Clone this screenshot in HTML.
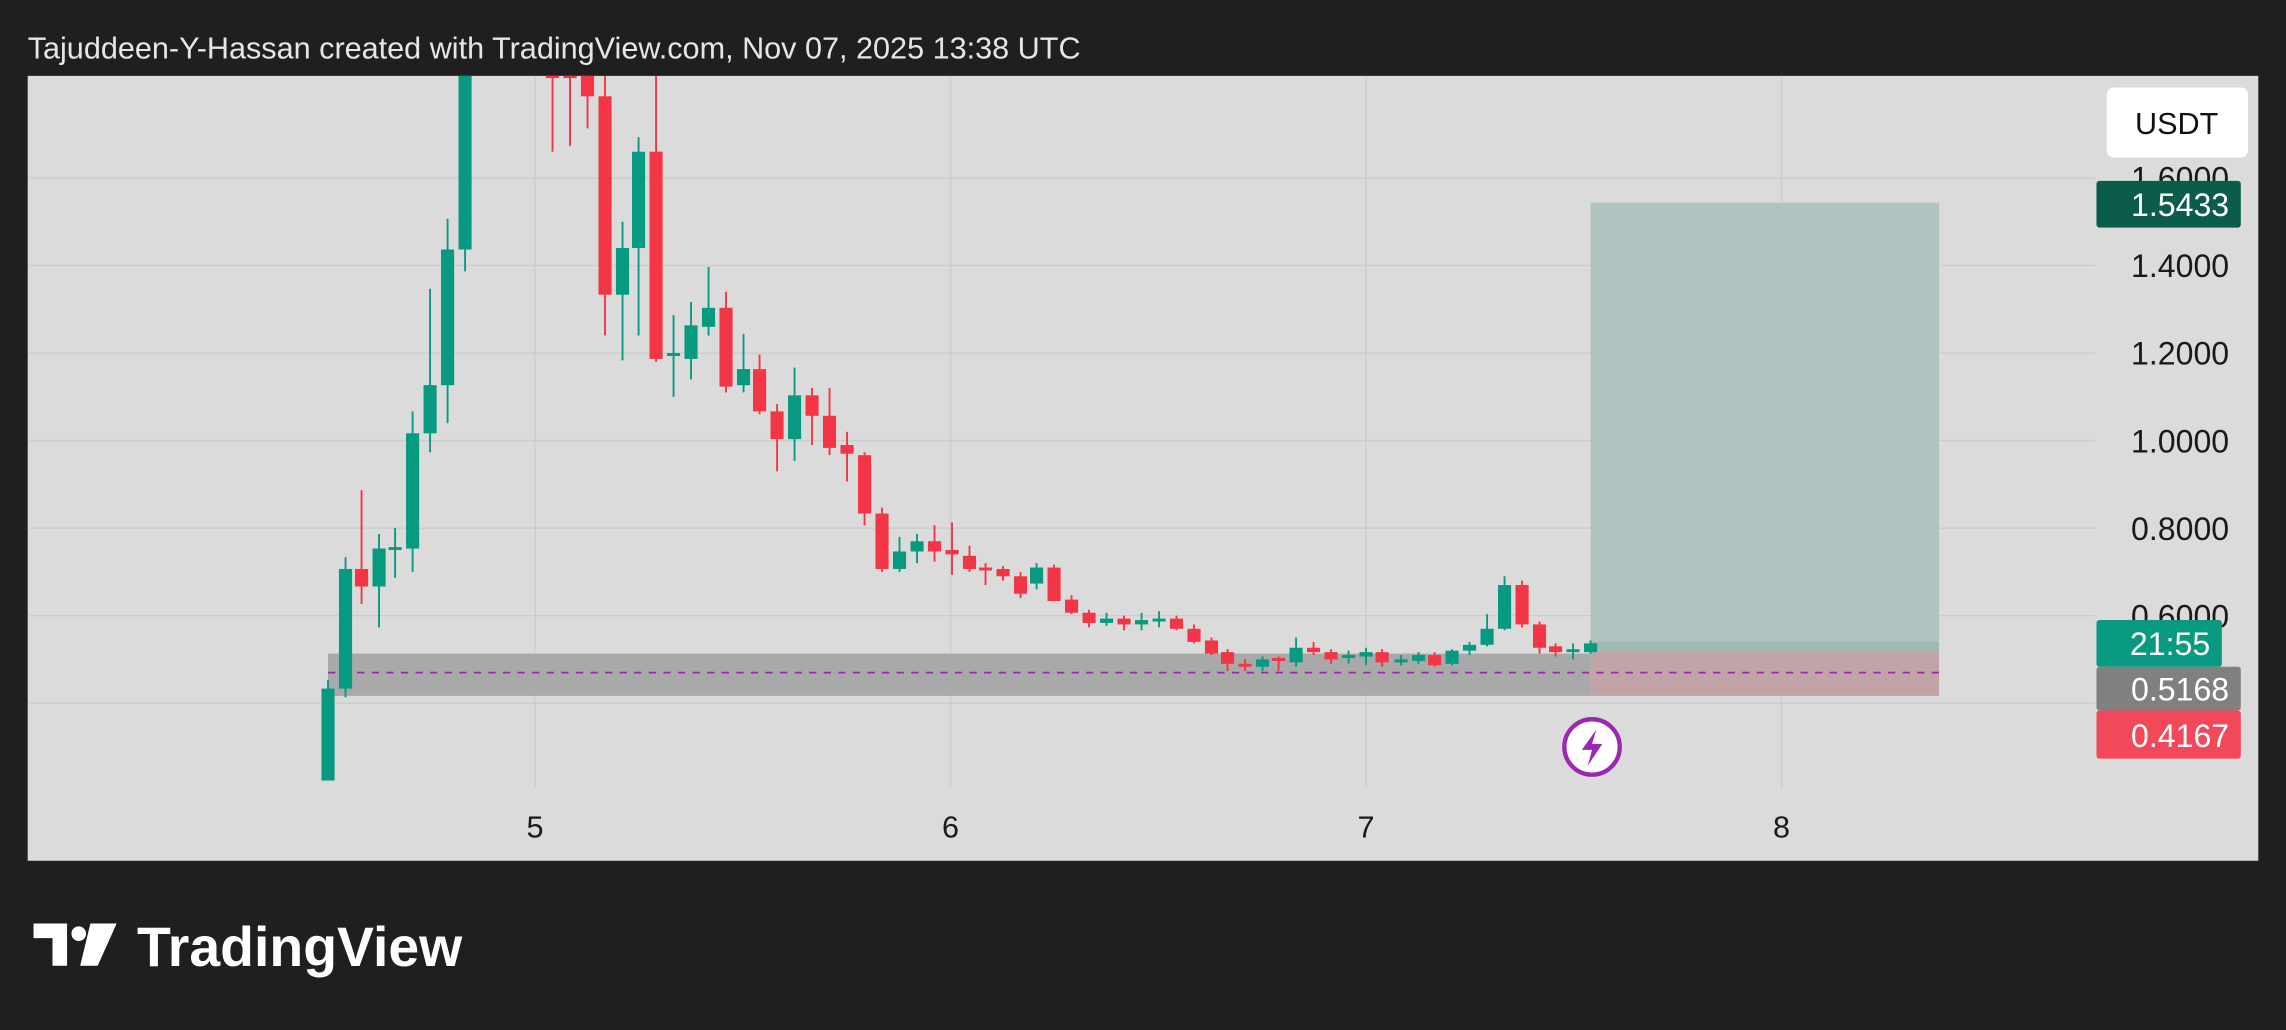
<!DOCTYPE html>
<html><head><meta charset="utf-8"><style>
html,body{margin:0;padding:0;background:#1f1f1f;}
svg{display:block;}
text{font-family:"Liberation Sans",sans-serif;}
</style></head><body>
<svg width="2286" height="1030" viewBox="0 0 1568 706" preserveAspectRatio="none" xmlns="http://www.w3.org/2000/svg">
<rect width="1568" height="706" fill="#1f1f1f"/>
<text x="19" y="40" font-size="21" fill="#e6e6e6">Tajuddeen-Y-Hassan created with TradingView.com, Nov 07, 2025 13:38 UTC</text>
<rect x="19" y="52" width="1530" height="538" fill="#dbdbdb"/>
<g stroke="#cdcdcd" stroke-width="1">
<line x1="19" x2="1437" y1="122" y2="122"/><line x1="19" x2="1437" y1="182" y2="182"/>
<line x1="19" x2="1437" y1="242" y2="242"/><line x1="19" x2="1437" y1="302" y2="302"/>
<line x1="19" x2="1437" y1="362" y2="362"/><line x1="19" x2="1437" y1="422" y2="422"/>
<line x1="19" x2="1437" y1="482" y2="482"/>
<line x1="367" x2="367" y1="52" y2="540"/><line x1="652" x2="652" y1="52" y2="540"/>
<line x1="937" x2="937" y1="52" y2="540"/><line x1="1222" x2="1222" y1="52" y2="540"/>
</g>
<rect x="225" y="448" width="866" height="29" fill="#a9a9a9"/>
<rect x="1091" y="139" width="239" height="308" fill="#b0c3c0"/>
<rect x="1091" y="440" width="239" height="7" fill="#9fb8b3"/>
<rect x="1091" y="447" width="239" height="30" fill="#c2a4a8"/>
<line x1="225" x2="1330" y1="461" y2="461" stroke="#9c27b0" stroke-width="1.2" stroke-dasharray="5,5"/>
<g id="c"></g>
<circle cx="1092" cy="512" r="19" fill="#fff" stroke="#9c27b0" stroke-width="3"/>
<path d="M1095 500 L1085 514 L1092 514 L1089 525 L1099 510 L1092 510 Z" fill="#9c27b0"/>
<g font-size="22" fill="#1a1a1a" text-anchor="end">
<text x="1529" y="130">1.6000</text>
<text x="1529" y="190">1.4000</text><text x="1529" y="250">1.2000</text>
<text x="1529" y="310">1.0000</text><text x="1529" y="370">0.8000</text>
<text x="1529" y="430">0.6000</text>
</g>
<rect x="1445" y="60" width="97" height="48" rx="5" fill="#fff"/>
<text x="1493" y="92" font-size="21" fill="#111" text-anchor="middle">USDT</text>
<rect x="1438" y="124" width="99" height="32" rx="2" fill="#0b5c4b"/>
<text x="1529" y="148" font-size="22" fill="#fff" text-anchor="end">1.5433</text>
<rect x="1438" y="425" width="86" height="32" rx="2" fill="#089981"/>
<text x="1516" y="449" font-size="22" fill="#fff" text-anchor="end">21:55</text>
<rect x="1438" y="457" width="99" height="30" rx="2" fill="#808080"/>
<text x="1529" y="480" font-size="22" fill="#fff" text-anchor="end">0.5168</text>
<rect x="1438" y="487" width="99" height="33" rx="2" fill="#f2495a"/>
<text x="1529" y="512" font-size="22" fill="#fff" text-anchor="end">0.4167</text>
<g font-size="21" fill="#1a1a1a" text-anchor="middle">
<text x="367" y="574">5</text><text x="652" y="574">6</text><text x="937" y="574">7</text><text x="1222" y="574">8</text>
</g>
<g fill="#fff">
<path d="M23 633 H46 V662 H36 V643 H23 Z"/>
<circle cx="54" cy="640" r="5"/>
<path d="M62 633 H80 L67 662 H55 Z"/>
</g>
<text x="94" y="662" font-size="38" font-weight="bold" fill="#fff">TradingView</text>
</svg>
<script>
var d=[
[225,472,535,466,535,'g'],[237,390,472,382,478,'g'],[248,390,402,336,414,'r'],[260,376,402,366,430,'g'],
[271,375,377,362,396,'g'],[283,297,376,282,392,'g'],[295,264,297,198,310,'g'],[307,171,264,150,290,'g'],
[319,52,171,52,186,'g'],[379,52,52,52,104,'r'],[391,52,52,52,100,'r'],[403,52,66,52,88,'r'],[415,66,202,52,230,'r'],
[427,170,202,152,247,'g'],[438,104,170,94,230,'g'],[450,104,246,52,248,'r'],
[462,242,244,216,272,'g'],[474,223,246,207,260,'g'],[486,211,224,183,230,'g'],[498,211,265,200,269,'r'],
[510,253,264,229,269,'g'],[521,253,282,243,284,'r'],[533,282,301,277,323,'r'],[545,271,301,252,316,'g'],
[557,271,285,266,305,'r'],[569,285,307,266,312,'r'],[581,305,311,296,330,'r'],[593,312,352,310,360,'r'],
[605,352,390,348,392,'r'],[617,378,390,368,392,'g'],[629,371,378,366,386,'g'],[641,371,378,360,385,'r'],
[653,377,380,358,394,'r'],[665,381,390,374,392,'r'],[676,389,391,386,401,'r'],[688,390,395,388,398,'r'],
[700,395,407,392,410,'r'],[711,389,400,386,404,'g'],[723,389,412,387,412,'r'],[735,411,420,408,421,'r'],
[747,420,427,418,430,'r'],[759,424,427,420,429,'g'],[771,424,428,422,432,'r'],[783,425,428,420,432,'g'],
[795,424,426,419,430,'g'],[807,424,431,422,432,'r'],[819,431,440,428,441,'r'],[831,439,448,437,449,'r'],
[842,447,455,445,460,'r'],[854,455,457,452,460,'r'],[866,452,457,450,460,'g'],[877,451,453,450,460,'r'],
[889,444,454,437,457,'g'],[901,444,447,440,449,'r'],[913,447,452,445,455,'r'],[925,449,451,446,455,'g'],
[937,447,450,444,456,'g'],[948,447,454,445,457,'r'],[961,452,454,449,456,'g'],[973,449,453,447,455,'g'],
[984,449,456,447,457,'r'],[996,446,455,445,456,'g'],[1008,442,446,440,449,'g'],[1020,431,442,421,443,'g'],
[1032,401,431,395,432,'g'],[1044,401,428,398,430,'r'],[1056,428,444,426,448,'r'],[1067,443,447,441,450,'r'],
[1079,445,447,441,452,'g'],[1091,441,447,439,448,'g']];
var g=document.getElementById('c'),s='';
d.forEach(function(c){var col=c[5]=='g'?'#089981':'#f23645';var h=Math.max(c[2]-c[1],1.5);
s+='<line x1="'+c[0]+'" x2="'+c[0]+'" y1="'+c[3]+'" y2="'+c[4]+'" stroke="'+col+'" stroke-width="1.3"/>';
s+='<rect x="'+(c[0]-4.5)+'" y="'+c[1]+'" width="9" height="'+h+'" fill="'+col+'"/>';});
g.innerHTML=s;
</script>
</body></html>
